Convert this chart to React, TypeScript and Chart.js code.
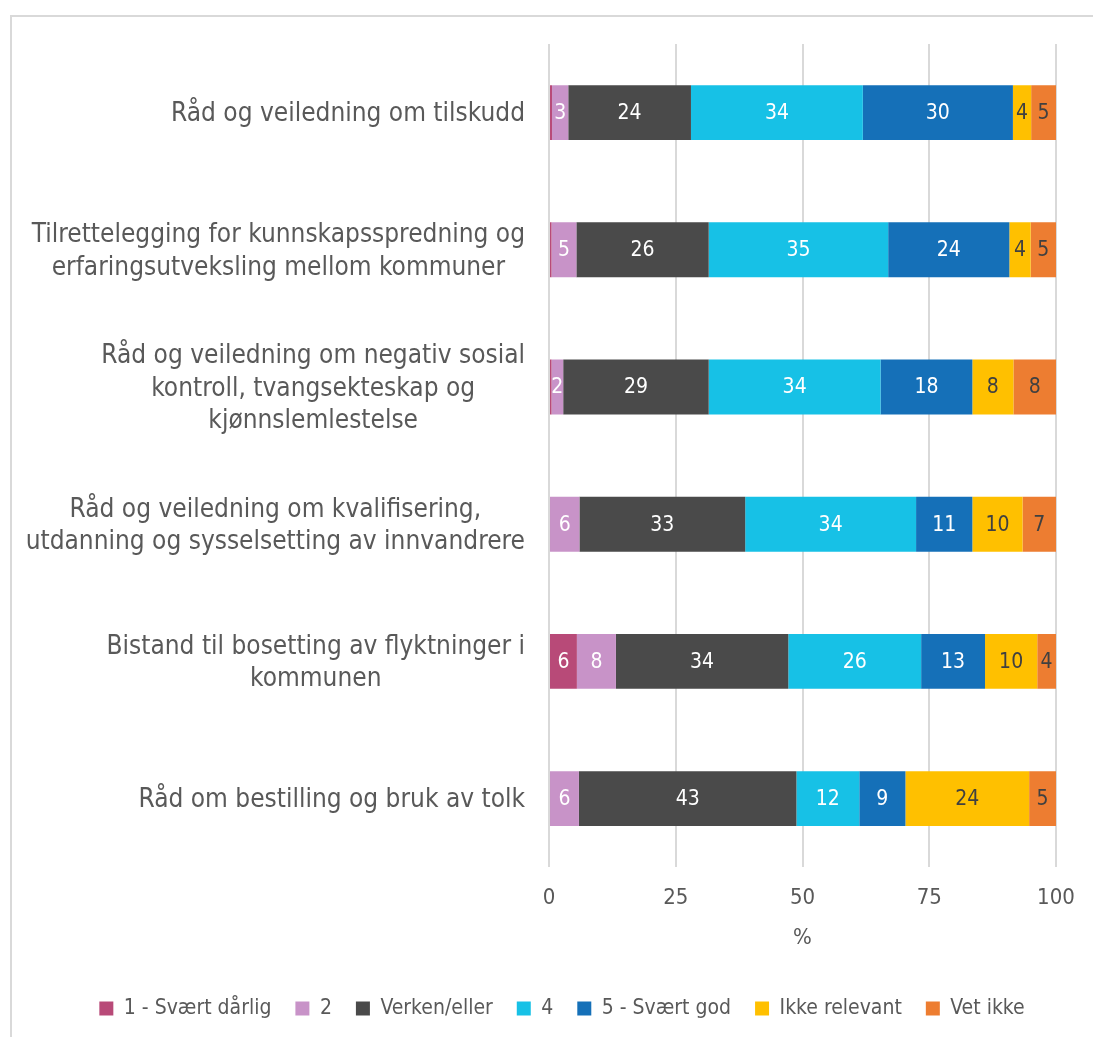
import React, { useEffect, useRef } from "react";
import { Chart, registerables } from "chart.js";

Chart.register(...registerables);

const categories: string[][] = [
  ["Råd og veiledning om tilskudd"],
  ["Tilrettelegging for kunnskapsspredning og", "erfaringsutveksling mellom kommuner"],
  ["Råd og veiledning om negativ sosial", "kontroll, tvangsekteskap og", "kjønnslemlestelse"],
  ["Råd og veiledning om kvalifisering,", "utdanning og sysselsetting av innvandrere"],
  ["Bistand til bosetting av flyktninger i", "kommunen"],
  ["Råd om bestilling og bruk av tolk"],
];

const seriesNames = ["1 - Svært dårlig", "2", "Verken/eller", "4", "5 - Svært god", "Ikke relevant", "Vet ikke"];

const svaertDarlig = [0.6, 0.5, 0.5, 0.2, 5.5, 0.2];
const to = [3.2, 4.9, 2.3, 5.8, 7.7, 5.7];
const verkenEller = [24.2, 26.1, 28.7, 32.7, 34.0, 42.9];
const fire = [33.9, 35.4, 33.9, 33.7, 26.2, 12.4];
const svaertGod = [29.6, 23.9, 18.1, 11.1, 12.6, 9.1];
const ikkeRelevant = [3.6, 4.2, 8.1, 9.9, 10.3, 24.4];
const vetIkke = [4.9, 5.0, 8.4, 6.6, 3.7, 5.3];

const xTicks = [0, 25, 50, 75, 100];

const colors = ["#B84A78", "#C893C8", "#4A4A4A", "#17C1E6", "#1570B8", "#FFC000", "#ED7D31"];
const labelColors = ["#FFFFFF", "#FFFFFF", "#FFFFFF", "#FFFFFF", "#FFFFFF", "#404040", "#404040"];

const FONT = "'DejaVu Sans Condensed', 'DejaVu Sans', sans-serif";
const TEXT = "#595959";

const valueLabels = {
  id: "valueLabels",
  afterDatasetsDraw(chart: any) {
    const ctx = chart.ctx;
    ctx.save();
    ctx.font = `21px ${FONT}`;
    ctx.textAlign = "center";
    ctx.textBaseline = "middle";
    chart.data.datasets.forEach((ds: any, di: number) => {
      const meta = chart.getDatasetMeta(di);
      meta.data.forEach((bar: any, i: number) => {
        const v = ds.data[i];
        if (v < 1.5) return;
        const p = bar.getProps(["x", "base", "y"], true);
        ctx.fillStyle = labelColors[di];
        ctx.fillText(String(Math.round(v)), (p.x + p.base) / 2, p.y + 1);
      });
    });
    ctx.restore();
  },
};

const categoryLabels = {
  id: "categoryLabels",
  afterDraw(chart: any) {
    const ctx = chart.ctx;
    const yScale = chart.scales.y;
    const right = chart.chartArea.left - 24;
    const lineH = 32.5;
    ctx.save();
    ctx.font = `26px ${FONT}`;
    ctx.fillStyle = TEXT;
    ctx.textAlign = "center";
    ctx.textBaseline = "middle";
    categories.forEach((lines, i) => {
      const cy = yScale.getPixelForValue(i) + 2;
      const w = Math.max(...lines.map((l) => ctx.measureText(l).width));
      const cx = right - w / 2;
      const y0 = cy - ((lines.length - 1) * lineH) / 2;
      lines.forEach((l, li) => ctx.fillText(l, cx, y0 + li * lineH));
    });
    ctx.restore();
  },
};

export default function App() {
  const ref = useRef<HTMLCanvasElement | null>(null);
  useEffect(() => {
    if (!ref.current) return;
    const allData = [svaertDarlig, to, verkenEller, fire, svaertGod, ikkeRelevant, vetIkke];
    const chart = new Chart(ref.current, {
      type: "bar",
      data: {
        labels: categories.map((c) => c.join(" ")),
        datasets: allData.map((d, i) => ({
          label: seriesNames[i],
          data: d,
          backgroundColor: colors[i],
          borderWidth: 0,
          barPercentage: 0.4,
          categoryPercentage: 1.0,
        })),
      },
      options: {
        indexAxis: "y",
        animation: false,
        responsive: false,
        devicePixelRatio: 1,
        layout: { padding: { top: 44, right: 37, bottom: 8, left: 68 } },
        scales: {
          x: {
            stacked: true,
            min: 0,
            max: 100,
            afterBuildTicks: (scale: any) => {
              scale.ticks = xTicks.map((v) => ({ value: v }));
            },
            grid: { color: "#D9D9D9", lineWidth: 2, drawTicks: false },
            border: { display: false },
            ticks: { color: TEXT, font: { family: FONT, size: 22 }, padding: 18 },
            title: { display: true, text: "%", color: TEXT, font: { family: FONT, size: 22 }, padding: { top: -5, bottom: 23 } },
          },
          y: {
            stacked: true,
            grid: { display: false },
            border: { display: false },
            ticks: { display: false },
            afterFit: (scale: any) => {
              scale.width = 481;
            },
          },
        },
        plugins: {
          legend: {
            position: "bottom",
            labels: {
              color: TEXT,
              font: { family: FONT, size: 21 },
              boxWidth: 14,
              boxHeight: 14,
              padding: 24,
            },
          },
          tooltip: { enabled: false },
        },
      },
      plugins: [valueLabels, categoryLabels],
    } as any);
    return () => chart.destroy();
  }, []);

  return (
    <div style={{ position: "fixed", left: 0, top: 0, width: 1093, height: 1037, background: "#fff", overflow: "hidden" }}>
      <div
        style={{
          position: "absolute",
          left: 10,
          top: 15,
          width: 1200,
          height: 1100,
          borderLeft: "2px solid #D9D9D9",
          borderTop: "2px solid #D9D9D9",
        }}
      />
      <canvas ref={ref} width={1093} height={1037} style={{ position: "absolute", left: 0, top: 0, width: 1093, height: 1037 }} />
    </div>
  );
}
